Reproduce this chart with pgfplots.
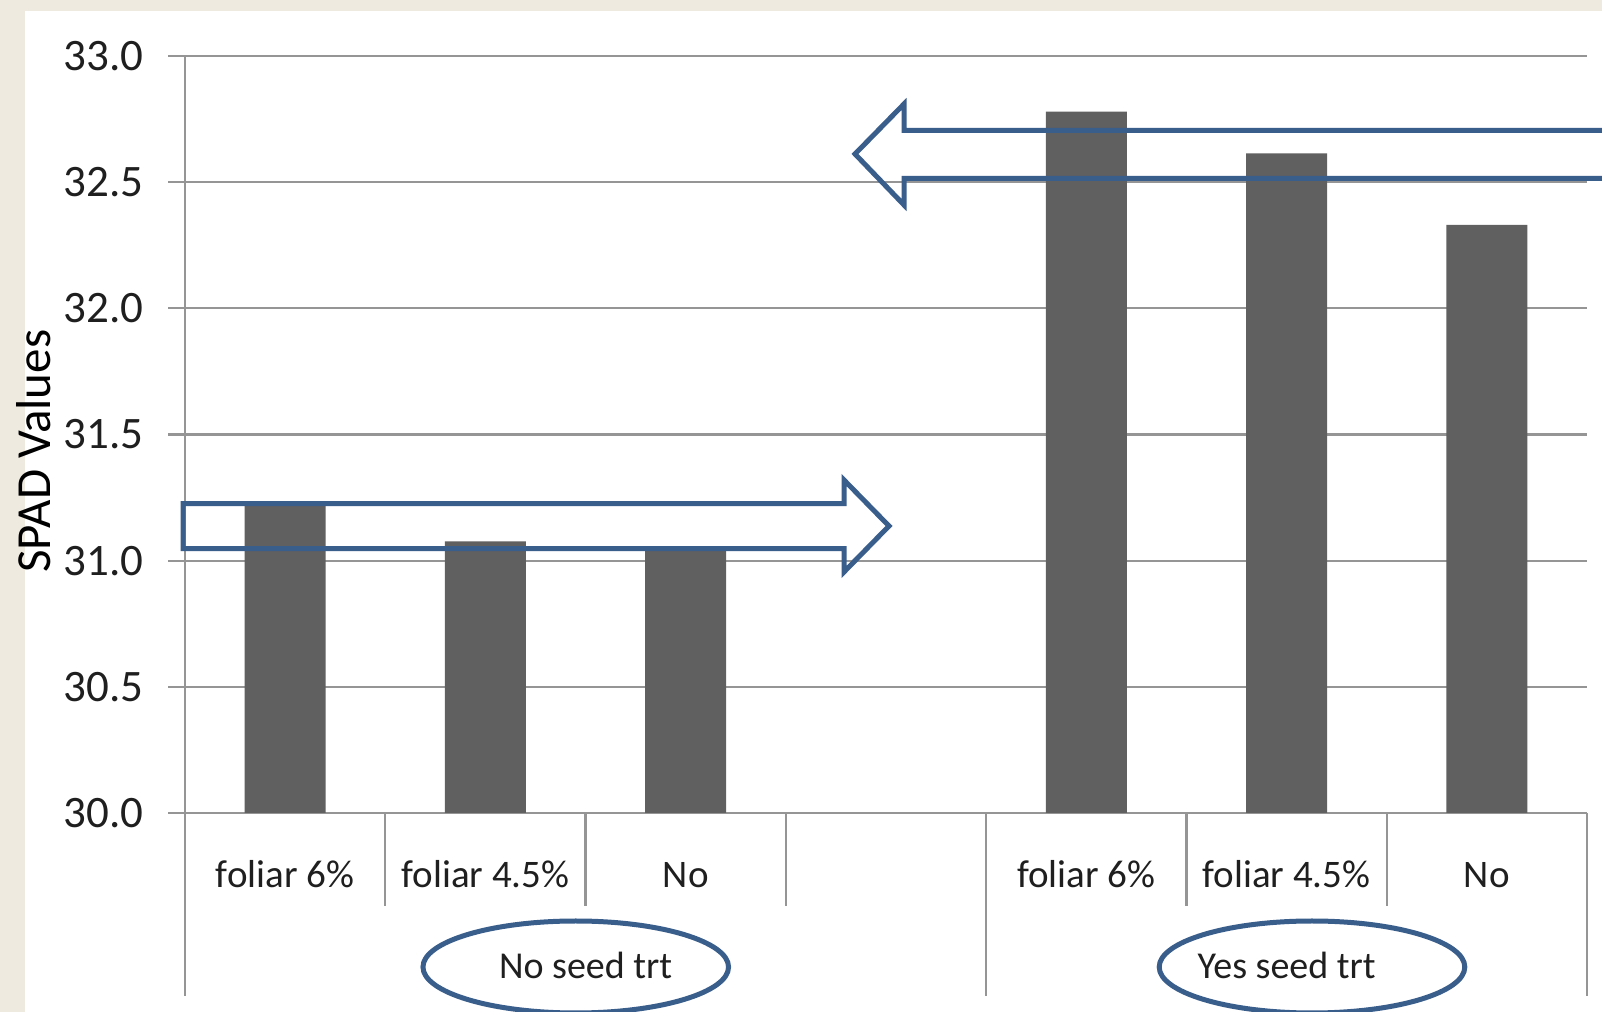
\documentclass[border=0pt]{standalone}
\usepackage{pgfplots}
\pgfplotsset{compat=1.18}
\usepackage{fontspec}
\setmainfont{Carlito}
\definecolor{beige}{HTML}{EEEAE0}
\definecolor{bargray}{HTML}{606060}
\definecolor{gridgray}{HTML}{959595}
\definecolor{shapeblue}{HTML}{3A5E8C}
\begin{document}
\begin{tikzpicture}
\path[use as bounding box, clip] (0pt,0pt) rectangle (801pt,506pt);
\fill[beige] (0pt,0pt) rectangle (801pt,506pt);
\fill[white] (12.5pt,0pt) rectangle (801pt,500.5pt);
\begin{axis}[
  at={(92.5pt,99.5pt)}, anchor=south west,
  scale only axis, width=701pt, height=378.5pt,
  xmin=-0.5, xmax=6.5, ymin=30, ymax=33,
  clip mode=individual,
  ytick={30,30.5,31,31.5,32,32.5,33},
  /pgf/number format/assume math mode=true,
  ymajorgrids, grid style={gridgray, line width=1.1pt},
  axis x line*=bottom, axis y line*=left,
  axis line style={gridgray, line width=1.1pt},
  major tick length=8.5pt, tick align=outside,
  ytick style={gridgray, line width=1.1pt},
  xtick={0,1,2,4,5,6},
  xticklabels={foliar 6\%, foliar 4.5\%, No, foliar 6\%, foliar 4.5\%, No},
  xtick style={draw=none},
  yticklabel shift=12pt,
  xticklabel shift=0pt,
  xticklabel style={font=\fontsize{19.5}{22}\selectfont, text=black!88, inner sep=0pt, anchor=base, yshift=-28.5pt},
  yticklabel style={/pgf/number format/fixed, /pgf/number format/fixed zerofill, /pgf/number format/precision=1, font=\fontsize{22.5}{26}\selectfont, text=black!88, inner sep=0pt},
  ylabel={SPAD Values},
  ylabel style={at={(rel axis cs:-0.1077,0.478)}, anchor=center, font=\fontsize{24.5}{28}\selectfont, text=black},
]
\addplot[ybar, bar width=40.5pt, bar shift=0pt, fill=bargray, draw=none]
  coordinates {(0,31.226) (1,31.076) (2,31.047) (4,32.78) (5,32.614) (6,32.331)};
\pgfplotsinvokeforeach{0.5,1.5,2.5,4.5,5.5}{
  \draw[gridgray, line width=1.1pt] (axis cs:#1,30) -- ++(0pt,-46.5pt);
}
\pgfplotsinvokeforeach{-0.5,3.5,6.5}{
  \draw[gridgray, line width=1.1pt] (axis cs:#1,30) -- ++(0pt,-91.5pt);
}
\node[font=\fontsize{19}{22}\selectfont, text=black!88, anchor=base] at ([yshift=-83pt]axis cs:1.5,30) {No seed trt};
\node[font=\fontsize{19}{22}\selectfont, text=black!88, anchor=base] at ([yshift=-83pt]axis cs:5,30) {Yes seed trt};
\draw[shapeblue, line width=2.5pt] ([yshift=-77pt]axis cs:1.451,30) ellipse [x radius=76.4pt, y radius=23pt];
\draw[shapeblue, line width=2.5pt] ([yshift=-77pt]axis cs:5.127,30) ellipse [x radius=76.4pt, y radius=23pt];
\end{axis}
\draw[shapeblue, line width=2.5pt, line join=miter]
  (91.5pt,254.15pt) -- (422pt,254.15pt) -- (422pt,266pt) -- (444.5pt,243pt) -- (422pt,220pt) -- (422pt,231.65pt) -- (91.5pt,231.65pt) -- cycle;
\draw[shapeblue, line width=2.5pt, line join=miter]
  (820pt,440.75pt) -- (452pt,440.75pt) -- (452pt,454pt) -- (427.5pt,429pt) -- (452pt,403.5pt) -- (452pt,416.75pt) -- (820pt,416.75pt);
\end{tikzpicture}
\end{document}
